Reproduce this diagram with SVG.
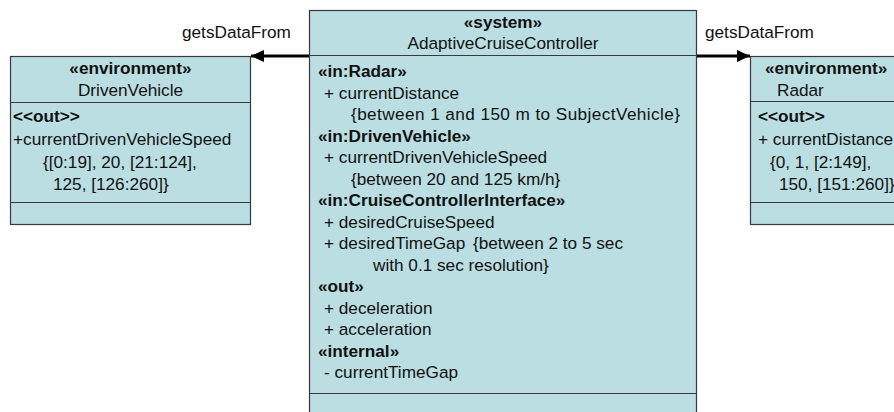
<svg xmlns="http://www.w3.org/2000/svg" width="894" height="412" viewBox="0 0 894 412">
<style>
.box{fill:#BADEE2;stroke:#3a3a3a;stroke-width:1.2}
.div{stroke:#3a3a3a;stroke-width:1.2}
text{font-family:"Liberation Sans",Arial,sans-serif;font-size:17.2px;fill:#111}
.b{font-weight:bold}
.c{text-anchor:middle}
.conn{stroke:#000;stroke-width:3;fill:none}
</style>
<defs>
<marker id="ah" markerWidth="14" markerHeight="12" refX="13" refY="6" orient="auto" markerUnits="userSpaceOnUse">
<path d="M0,0 L13,6 L0,12 Z" fill="#000"/>
</marker>
</defs>
<rect width="894" height="412" fill="#fff"/>
<g id="AdaptiveCruiseController">
<rect class="box" x="309.5" y="10.5" width="387" height="410"/>
<line class="div" x1="309.5" y1="55.5" x2="696.5" y2="55.5"/>
<line class="div" x1="309.5" y1="393.5" x2="696.5" y2="393.5"/>
<text class="b c" x="503" y="28">«system»</text>
<text class="c" x="503" y="49">AdaptiveCruiseController</text>
<text class="b" x="318" y="77">«in:Radar»</text>
<text x="324" y="98.5">+ currentDistance</text>
<text x="351" y="120" textLength="329" lengthAdjust="spacing">{between 1 and 150 m to SubjectVehicle}</text>
<text class="b" x="318" y="141.5">«in:DrivenVehicle»</text>
<text x="324" y="163">+ currentDrivenVehicleSpeed</text>
<text x="351" y="184.5">{between 20 and 125 km/h}</text>
<text class="b" x="318" y="206">«in:CruiseControllerInterface»</text>
<text x="324" y="227.5">+ desiredCruiseSpeed</text>
<text x="324" y="249">+ desiredTimeGap</text>
<text x="473" y="249">{between 2 to 5 sec</text>
<text x="373" y="270.5">with 0.1 sec resolution}</text>
<text class="b" x="318" y="292">«out»</text>
<text x="324" y="313.5">+ deceleration</text>
<text x="324" y="335">+ acceleration</text>
<text class="b" x="318" y="356.5">«internal»</text>
<text x="324" y="378">- currentTimeGap</text>
</g>
<g id="DrivenVehicle">
<rect class="box" x="10.5" y="56.5" width="240" height="168"/>
<line class="div" x1="10.5" y1="102.5" x2="250.5" y2="102.5"/>
<line class="div" x1="10.5" y1="202.5" x2="250.5" y2="202.5"/>
<text class="b c" x="130.5" y="74">«environment»</text>
<text class="c" x="130.5" y="96">DrivenVehicle</text>
<text class="b" x="13" y="122">&lt;&lt;out&gt;&gt;</text>
<text x="13" y="145">+currentDrivenVehicleSpeed</text>
<text x="43" y="167.5">{[0:19], 20, [21:124],</text>
<text x="53" y="190">125, [126:260]}</text>
</g>
<g id="Radar">
<rect class="box" x="750.5" y="56.5" width="240" height="168"/>
<line class="div" x1="750.5" y1="101.5" x2="990.5" y2="101.5"/>
<line class="div" x1="750.5" y1="202.5" x2="990.5" y2="202.5"/>
<text class="b" x="765" y="74">«environment»</text>
<text x="777" y="96">Radar</text>
<text class="b" x="758" y="122">&lt;&lt;out&gt;&gt;</text>
<text x="758" y="145">+ currentDistance</text>
<text x="770" y="167.5">{0, 1, [2:149],</text>
<text x="779" y="190">150, [151:260]}</text>
</g>
<g id="connectors">
<line class="conn" x1="309" y1="56" x2="251" y2="56" marker-end="url(#ah)"/>
<text x="182" y="38">getsDataFrom</text>
<line class="conn" x1="697" y1="56" x2="750" y2="56" marker-end="url(#ah)"/>
<text x="705" y="38">getsDataFrom</text>
</g>
</svg>
